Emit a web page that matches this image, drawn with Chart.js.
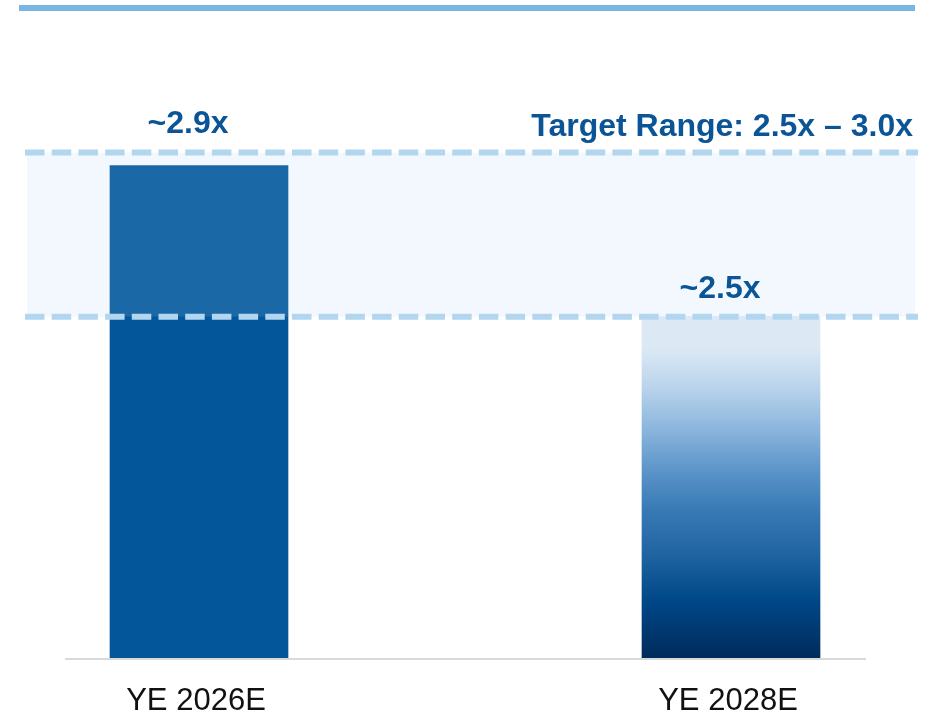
<!DOCTYPE html>
<html>
<head>
<meta charset="utf-8">
<title>Target Range</title>
<script src="https://cdn.jsdelivr.net/npm/chart.js@4.4.1/dist/chart.umd.min.js"></script>
<style>
    html, body { margin: 0; padding: 0; background: #ffffff; }
    #leverageChart { display: block; }
</style>
</head>
<body>
<canvas id="leverageChart" width="940" height="715"></canvas>
<script>
// Chart data
var categories = ['YE 2026E', 'YE 2028E'];
var leverage = [2.96, 2.5];
var valueLabels = ['~2.9x', '~2.5x'];
var targetRange = [2.5, 3.0];
var targetText = 'Target Range: 2.5x \u2013 3.0x';

var FONT = "'Liberation Sans', Arial, Helvetica, sans-serif";
var TEXT_BLUE = '#0b5596';
var BAR_BLUE = '#03569a';
var DASH_BLUE = '#b3d6f0';

// Vertical gradient for the second bar (light top -> navy bottom)
function barColor(context) {
    if (context.dataIndex === 0) return BAR_BLUE;
    var chart = context.chart;
    if (!chart.chartArea) return '#3a7bb7';
    var y = chart.scales.y;
    var top = y.getPixelForValue(leverage[context.dataIndex]);
    var bottom = chart.chartArea.bottom;
    var g = chart.ctx.createLinearGradient(0, top, 0, bottom);
    g.addColorStop(0, '#dce9f5');
    g.addColorStop(0.09, '#dce9f5');
    g.addColorStop(0.2, '#bcd5ec');
    g.addColorStop(0.32, '#8fb8de');
    g.addColorStop(0.46, '#5892c8');
    g.addColorStop(0.56, '#3a7bb7');
    g.addColorStop(0.7, '#1f63a1');
    g.addColorStop(0.83, '#004888');
    g.addColorStop(1, '#002b5c');
    return g;
}

// Decorations: top rule, target band, dashed limits, labels
var decorPlugin = {
    id: 'decor',
    beforeDatasetsDraw: function(chart) {
        var ctx = chart.ctx;
        ctx.save();
        ctx.fillStyle = '#7ab6e2';
        ctx.fillRect(19, 5, 896, 6);
        ctx.restore();
    },
    afterDatasetsDraw: function(chart) {
        var ctx = chart.ctx;
        var y = chart.scales.y;
        var meta = chart.getDatasetMeta(0);
        var yLow = y.getPixelForValue(targetRange[0]);
        var yHigh = y.getPixelForValue(targetRange[1]);

        ctx.save();

        // baseline
        ctx.strokeStyle = '#d9d9d9';
        ctx.lineWidth = 2;
        ctx.beginPath();
        ctx.moveTo(65, chart.chartArea.bottom + 1);
        ctx.lineTo(866, chart.chartArea.bottom + 1);
        ctx.stroke();

        // translucent target band
        ctx.fillStyle = 'rgba(170, 205, 240, 0.15)';
        ctx.fillRect(27, yHigh, 888, yLow - yHigh);

        // dashed range limits
        ctx.strokeStyle = DASH_BLUE;
        ctx.lineWidth = 6;
        ctx.setLineDash([19.5, 7.2]);
        [yHigh, yLow].forEach(function(py) {
            ctx.beginPath();
            ctx.moveTo(25, py);
            ctx.lineTo(918, py);
            ctx.stroke();
        });
        ctx.setLineDash([]);

        // target text
        ctx.fillStyle = TEXT_BLUE;
        ctx.font = 'bold 32px ' + FONT;
        ctx.textAlign = 'right';
        ctx.textBaseline = 'alphabetic';
        ctx.fillText(targetText, 913, yHigh - 17);

        // value labels above bars (kept clear of the dashed line)
        ctx.textAlign = 'center';
        meta.data.forEach(function(bar, i) {
            var ly = bar.y - 19;
            if (ly > yHigh - 12 && ly < yHigh + 30) ly = yHigh - 20;
            ctx.fillText(valueLabels[i], bar.x - 11, ly);
        });

        // category labels
        ctx.fillStyle = '#111111';
        ctx.font = '31px ' + FONT;
        meta.data.forEach(function(bar, i) {
            ctx.fillText(categories[i], bar.x - 3, 710);
        });

        ctx.restore();
    }
};

var chart = new Chart(document.getElementById('leverageChart'), {
    type: 'bar',
    data: {
        labels: categories,
        datasets: [{
            data: leverage,
            backgroundColor: barColor,
            borderWidth: 0,
            barThickness: 178,
            clip: { left: false, right: false, top: 0, bottom: 0 }
        }]
    },
    options: {
        responsive: false,
        animation: false,
        layout: {
            padding: { left: 199, right: 209, top: 18, bottom: 57 }
        },
        plugins: {
            legend: { display: false },
            tooltip: { enabled: false }
        },
        scales: {
            x: {
                display: false,
                offset: false
            },
            y: {
                display: false,
                min: 1.46,
                max: 3.41
            }
        }
    },
    plugins: [decorPlugin]
});
</script>
</body>
</html>
